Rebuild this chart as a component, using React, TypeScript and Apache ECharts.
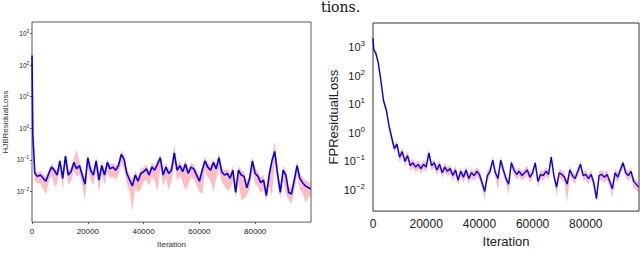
import { useEffect, useRef } from "react";
import * as echarts from "echarts";

const iterations = [0,300,600,1000,2000,3000,4000,5000,6000,7000,8000,9000,10000,11000,12000,13000,14000,15000,16000,17000,18000,19000,20000,21000,22000,23000,24000,25000,26000,27000,28000,29000,30000,31000,32000,33000,34000,35000,36000,37000,38000,39000,40000,41000,42000,43000,44000,45000,46000,47000,48000,49000,50000,51000,52000,53000,54000,55000,56000,57000,58000,59000,60000,61000,62000,63000,64000,65000,66000,67000,68000,69000,70000,71000,72000,73000,74000,75000,76000,77000,78000,79000,80000,81000,82000,83000,84000,85000,86000,87000,88000,89000,90000,91000,92000,93000,94000,95000,96000,97000,98000,99900];

const hjbMean = [200,0.6,0.19,
0.037,0.030,0.033,0.026,0.021,0.037,0.059,0.047,0.033,0.093,
0.026,0.132,0.033,0.042,0.083,0.052,0.066,0.033,0.017,0.117,
0.047,0.033,0.093,0.023,0.066,0.033,0.083,0.052,0.059,0.047,
0.066,0.148,0.105,0.037,0.023,0.015,0.033,0.021,0.037,0.042,
0.052,0.033,0.059,0.047,0.074,0.117,0.033,0.059,0.037,0.047,
0.166,0.047,0.066,0.042,0.074,0.037,0.059,0.052,0.033,0.021,
0.047,0.093,0.059,0.047,0.083,0.052,0.117,0.042,0.033,0.037,
0.026,0.047,0.0093,0.047,0.033,0.030,0.013,0.026,0.093,0.037,
0.030,0.019,0.023,0.0074,0.033,0.093,0.186,0.037,0.0093,0.047,
0.033,0.0093,0.0083,0.023,0.066,0.026,0.019,0.015,0.012];

const hjbLower = [120,0.3,0.1,
0.022,0.018,0.019,0.012,0.008,0.020,0.033,0.014,0.018,0.050,
0.012,0.070,0.016,0.022,0.045,0.028,0.035,0.016,0.0052,0.060,
0.024,0.016,0.045,0.0095,0.034,0.016,0.042,0.026,0.030,0.024,
0.033,0.080,0.050,0.018,0.010,0.0023,0.014,0.0095,0.012,0.020,
0.024,0.015,0.028,0.022,0.010,0.055,0.015,0.028,0.011,0.022,
0.080,0.022,0.032,0.020,0.011,0.017,0.028,0.025,0.015,0.010,
0.0080,0.045,0.028,0.022,0.0095,0.025,0.055,0.020,0.015,0.011,
0.012,0.022,0.0062,0.022,0.0052,0.0060,0.0075,0.012,0.045,0.017,
0.014,0.0090,0.011,0.0052,0.015,0.0070,0.090,0.017,0.0060,0.022,
0.0085,0.0055,0.0040,0.011,0.032,0.012,0.0090,0.0045,0.0080];

const hjbUpper = [400,1.0,0.3,
0.048,0.040,0.044,0.036,0.030,0.050,0.075,0.062,0.045,0.120,
0.036,0.165,0.046,0.058,0.110,0.210,0.090,0.047,0.026,0.150,
0.065,0.046,0.125,0.034,0.090,0.046,0.110,0.070,0.080,0.065,
0.090,0.200,0.135,0.052,0.034,0.024,0.046,0.031,0.052,0.058,
0.072,0.047,0.080,0.065,0.100,0.150,0.047,0.080,0.052,0.065,
0.300,0.066,0.090,0.058,0.100,0.052,0.080,0.072,0.047,0.031,
0.065,0.125,0.080,0.065,0.110,0.072,0.170,0.058,0.047,0.052,
0.037,0.065,0.016,0.065,0.047,0.042,0.020,0.037,0.125,0.052,
0.042,0.028,0.033,0.012,0.047,0.125,0.380,0.052,0.015,0.065,
0.047,0.015,0.013,0.033,0.090,0.037,0.028,0.023,0.018];

const fpMean = [2000,800,700,630,280,63,12.6,6.3,1.8,0.7,0.28,
0.4,0.14,0.22,0.10,0.16,0.071,0.089,0.063,0.079,0.056,0.079,0.063,
0.2,0.071,0.089,0.05,0.079,0.04,0.063,0.045,0.056,0.032,
0.05,0.022,0.045,0.028,0.05,0.025,0.04,0.032,0.045,0.035,
0.018,0.0089,0.032,0.045,0.11,0.04,0.025,0.11,0.05,0.025,
0.016,0.089,0.05,0.035,0.045,0.032,0.04,0.05,0.028,0.04,
0.089,0.02,0.035,0.032,0.045,0.035,0.14,0.032,0.0126,0.04,
0.035,0.028,0.016,0.05,0.032,0.025,0.045,0.079,0.032,0.035,
0.025,0.035,0.018,0.005,0.032,0.035,0.028,0.035,0.02,0.011,
0.04,0.028,0.05,0.089,0.04,0.032,0.045,0.02,0.0126];

const fpLower = [1500,650,580,520,230,50,10,4.8,1.3,0.5,0.2,
0.28,0.09,0.15,0.065,0.11,0.048,0.06,0.042,0.053,0.037,0.053,0.042,
0.13,0.048,0.06,0.033,0.053,0.026,0.042,0.03,0.037,0.021,
0.033,0.014,0.03,0.018,0.033,0.016,0.026,0.021,0.03,0.023,
0.011,0.0045,0.021,0.03,0.072,0.026,0.009,0.072,0.033,0.016,
0.007,0.06,0.033,0.023,0.03,0.021,0.026,0.033,0.018,0.026,
0.06,0.012,0.023,0.021,0.03,0.023,0.09,0.021,0.006,0.026,
0.023,0.018,0.0035,0.033,0.021,0.016,0.03,0.053,0.021,0.023,
0.016,0.023,0.011,0.0038,0.021,0.023,0.018,0.023,0.012,0.0055,
0.026,0.018,0.033,0.06,0.026,0.021,0.03,0.012,0.008];

const fpUpper = [2400,1000,850,760,340,78,16,8.0,2.4,0.95,0.38,
0.55,0.2,0.3,0.14,0.22,0.1,0.12,0.088,0.11,0.078,0.11,0.088,
0.27,0.1,0.12,0.07,0.11,0.056,0.088,0.063,0.078,0.045,
0.07,0.031,0.063,0.04,0.07,0.035,0.056,0.045,0.063,0.05,
0.026,0.013,0.045,0.063,0.15,0.056,0.035,0.15,0.07,0.035,
0.023,0.12,0.07,0.05,0.063,0.045,0.056,0.07,0.04,0.056,
0.12,0.028,0.05,0.045,0.063,0.05,0.2,0.045,0.018,0.056,
0.05,0.04,0.023,0.07,0.045,0.035,0.063,0.11,0.045,0.05,
0.035,0.05,0.026,0.0075,0.045,0.05,0.04,0.05,0.028,0.016,
0.056,0.04,0.07,0.12,0.056,0.045,0.063,0.028,0.018];

const xTickStep = 20000;
const FONT = "Liberation Sans";
const BAND = "rgba(255,0,0,0.26)";

const pairs = (ys: number[]) => iterations.map((x, i) => [x, ys[i]]);

const logFmt = (v: number) => {
  const e = Math.round(Math.log10(v));
  return `{b|10}{s|${e < 0 ? "\u2212" : ""}${Math.abs(e)}}`;
};

function bandSeries(idx: number, lo: number[], hi: number[]) {
  return {
    type: "custom",
    xAxisIndex: idx,
    yAxisIndex: idx,
    silent: true,
    clip: true,
    z: 1,
    data: iterations.map((x, i) => [x, lo[i], hi[i]]),
    encode: { x: 0, y: [1, 2] },
    renderItem: (params: any, api: any) => {
      if (params.dataIndex !== 0) return null;
      const pts: number[][] = [];
      for (let i = 0; i < iterations.length; i++) pts.push(api.coord([iterations[i], lo[i]]));
      for (let i = iterations.length - 1; i >= 0; i--) pts.push(api.coord([iterations[i], hi[i]]));
      return { type: "polygon", shape: { points: pts }, style: { fill: BAND, stroke: null } };
    },
  };
}

export default function App() {
  const ref = useRef<HTMLDivElement>(null);
  useEffect(() => {
    const chart = echarts.init(ref.current!, null, { renderer: "svg" });
    chart.setOption({
      animation: false,
      backgroundColor: "#ffffff",
      grid: [
        { left: 31, top: 22, width: 280, height: 209, show: true, borderColor: "#5a5a5a", borderWidth: 1, containLabel: false },
        { left: 373, top: 23, width: 266, height: 196, show: true, borderColor: "#333333", borderWidth: 1, containLabel: false },
      ],
      xAxis: [
        {
          type: "value", gridIndex: 0, min: 0, max: 100000, interval: xTickStep,
          name: "Iteration", nameLocation: "middle", nameGap: 13,
          nameTextStyle: { fontFamily: FONT, fontSize: 8, color: "#333" },
          axisLine: { show: false },
          axisTick: { show: true, length: 2, lineStyle: { color: "#555" } },
          axisLabel: { fontFamily: FONT, fontSize: 8, color: "#222", margin: 5, showMaxLabel: false, formatter: (v: number) => String(v) },
          splitLine: { show: false },
        },
        {
          type: "value", gridIndex: 1, min: 0, max: 100000, interval: xTickStep,
          name: "Iteration", nameLocation: "middle", nameGap: 21,
          nameTextStyle: { fontFamily: FONT, fontSize: 13, color: "#222" },
          axisLine: { show: false },
          axisTick: { show: false },
          axisLabel: { fontFamily: FONT, fontSize: 12, color: "#222", margin: 7, showMaxLabel: false, formatter: (v: number) => String(v) },
          splitLine: { show: false },
        },
      ],
      yAxis: [
        {
          type: "log", logBase: 10, gridIndex: 0, min: 0.001072, max: 2312,
          name: "HJBResidualLoss", nameLocation: "middle", nameGap: 23, nameRotate: 90,
          nameTextStyle: { fontFamily: FONT, fontSize: 8, color: "#333" },
          axisLine: { show: false },
          axisTick: { show: true, length: 2, lineStyle: { color: "#555" } },
          axisLabel: {
            margin: 3, showMinLabel: false, showMaxLabel: false, formatter: logFmt,
            rich: {
              b: { fontFamily: FONT, fontSize: 6.5, color: "#222", lineHeight: 9 },
              s: { fontFamily: FONT, fontSize: 4.5, color: "#222", lineHeight: 4.5, verticalAlign: "top" },
            },
          },
          splitLine: { show: false },
        },
        {
          type: "log", logBase: 10, gridIndex: 1, min: 0.001828, max: 6902,
          name: "FPResidualLoss", nameLocation: "middle", nameGap: 31, nameRotate: 90,
          nameTextStyle: { fontFamily: FONT, fontSize: 13, color: "#222" },
          axisLine: { show: false },
          axisTick: { show: false },
          axisLabel: {
            margin: 8, showMinLabel: false, showMaxLabel: false, formatter: logFmt,
            rich: {
              b: { fontFamily: FONT, fontSize: 11, color: "#222", lineHeight: 15 },
              s: { fontFamily: FONT, fontSize: 8, color: "#222", lineHeight: 7, verticalAlign: "top" },
            },
          },
          splitLine: { show: false },
        },
      ],
      graphic: [
        {
          type: "text", x: 321, y: 7,
          style: { text: "tions.", fontFamily: "DejaVu Serif", fontSize: 14, fill: "#111", verticalAlign: "middle", align: "left" },
        },
      ],
      series: [
        bandSeries(0, hjbLower, hjbUpper),
        {
          type: "line", xAxisIndex: 0, yAxisIndex: 0, data: pairs(hjbMean),
          showSymbol: false, silent: true, lineStyle: { color: "#0000ff", width: 1.6 }, z: 3,
        },
        bandSeries(1, fpLower, fpUpper),
        {
          type: "line", xAxisIndex: 1, yAxisIndex: 1, data: pairs(fpMean),
          showSymbol: false, silent: true, lineStyle: { color: "#0000ff", width: 1.4 }, z: 3,
        },
      ],
    });
    return () => chart.dispose();
  }, []);
  return <div ref={ref} style={{ position: "absolute", left: 0, top: 0, width: 640, height: 253 }} />;
}
